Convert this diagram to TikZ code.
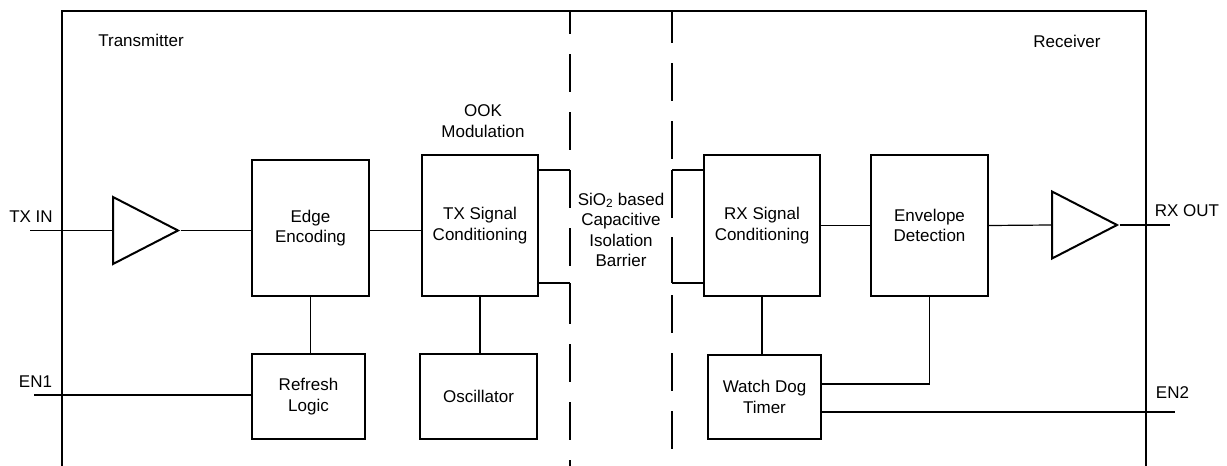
\documentclass[tikz,border=0pt]{standalone}
\usepackage{fontspec}
\setmainfont{Liberation Sans}
\usetikzlibrary{positioning,shapes.geometric,calc}

\newcommand{\blockfont}{\fontsize{17}{20.5}\selectfont}

\tikzset{
  block/.style={draw, line width=2pt, align=center, inner sep=2pt, font=\blockfont},
  tag/.style={font=\blockfont, align=center, inner sep=0pt},
  wire/.style={line width=1.2pt},
  frame/.style={line width=2.4pt},
  plate/.style={line width=2.4pt},
  barrier/.style={line width=2.4pt, dash pattern=on 38pt off 20pt},
  buffer/.style={draw, line width=2pt, isosceles triangle, isosceles triangle stretches,
    minimum width=67pt, minimum height=65pt, inner sep=0pt, anchor=west}
}

\begin{document}
\begin{tikzpicture}[x=1pt,y=-1pt]
\useasboundingbox (0,0) rectangle (1227,466);

% outline and isolation barrier
\draw[frame] (62,466) -- (62,11) -- (1146,11) -- (1146,466);
\draw[barrier, dash phase=15pt] (570,11) -- (570,466);
\draw[barrier, dash phase=6pt] (672,11) -- (672,466);

% texts
\node[tag] (txlbl) at (141,40) {Transmitter};
\node[tag] (rxlbl) at (1067,41) {Receiver};
\node[tag] (ook) at (483,121) {OOK\\Modulation};
\node[tag] (sio) at (621,230) {SiO\textsubscript{2} based\\Capacitive\\Isolation\\Barrier};
\node[tag] (txinlbl) at (31,217) {TX IN};
\node[tag] (en1lbl) at (35.5,382) {EN1};
\node[tag] (rxoutlbl) at (1187,211) {RX OUT};
\node[tag] (en2lbl) at (1172.5,393) {EN2};

% blocks
\node[block, minimum width=117pt, minimum height=136pt] (edge) at (310.5,228) {Edge\\Encoding};
\node[block, minimum width=116pt, minimum height=141pt] (txsc) at (480,225.5) {TX Signal\\Conditioning};
\node[block, minimum width=113pt, minimum height=85pt] (refresh) at (308.5,396.5) {Refresh\\Logic};
\node[block, minimum width=117pt, minimum height=85pt] (osc) at (478.5,396.5) {Oscillator};
\node[block, minimum width=116pt, minimum height=141pt] (rxsc) at (762,225.5) {RX Signal\\Conditioning};
\node[block, minimum width=117pt, minimum height=141pt] (env) at (929.5,225.5) {Envelope\\Detection};
\node[block, minimum width=113pt, minimum height=84pt] (wdt) at (764.5,397) {Watch Dog\\Timer};

\node[buffer] (txbuf) at (112,230.5) {};
\node[buffer] (rxbuf) at (1051,225) {};

\coordinate (txin) at (30,230.5);
\coordinate (en1) at (34,395);
\coordinate (rxout) at (1170,225);
\coordinate (en2) at (1175,412);
\coordinate (tplate1) at (570,170);
\coordinate (tplate2) at (570,283);
\coordinate (rplate1) at (672,170);
\coordinate (rplate2) at (672,283);
\coordinate (envtap) at (933,384);

% transmitter side
\draw[wire] (txin) -- (txbuf.west);
\draw[wire] (txbuf.apex) -- (txbuf.apex -| edge.west);
\draw[wire] (txbuf.apex -| edge.east) -- (txbuf.apex -| txsc.west);
\draw[wire] (edge.south) -- (edge.south |- refresh.north);
\draw[wire] (en1) -- (en1 -| refresh.west);
\draw[wire] (txsc.south) -- (txsc.south |- osc.north);
\draw[wire] (tplate1 -| txsc.east) -- (tplate1);
\draw[wire] (tplate2 -| txsc.east) -- (tplate2);
\draw[plate] (tplate1) -- ++(0,37);
\draw[plate] (tplate2) -- ++(0,40);

% receiver side
\draw[wire] (rplate1) -- (rplate1 -| rxsc.west);
\draw[wire] (rplate2) -- (rplate2 -| rxsc.west);
\draw[plate] (rplate1) -- ++(0,48);
\draw[plate] (rplate2) -- ++(0,-43);
\draw[wire] (rxsc.east) -- (env.west);
\draw[wire] (env.east) -- (rxbuf.west);
\draw[wire] (rxbuf.apex) -- (rxout);
\draw[wire] (rxsc.south) -- (rxsc.south |- wdt.north);
\draw[wire] (env.south) -- (env.south |- envtap) -- (envtap -| wdt.east);
\draw[wire] (en2 -| wdt.east) -- (en2);

\end{tikzpicture}
\end{document}
